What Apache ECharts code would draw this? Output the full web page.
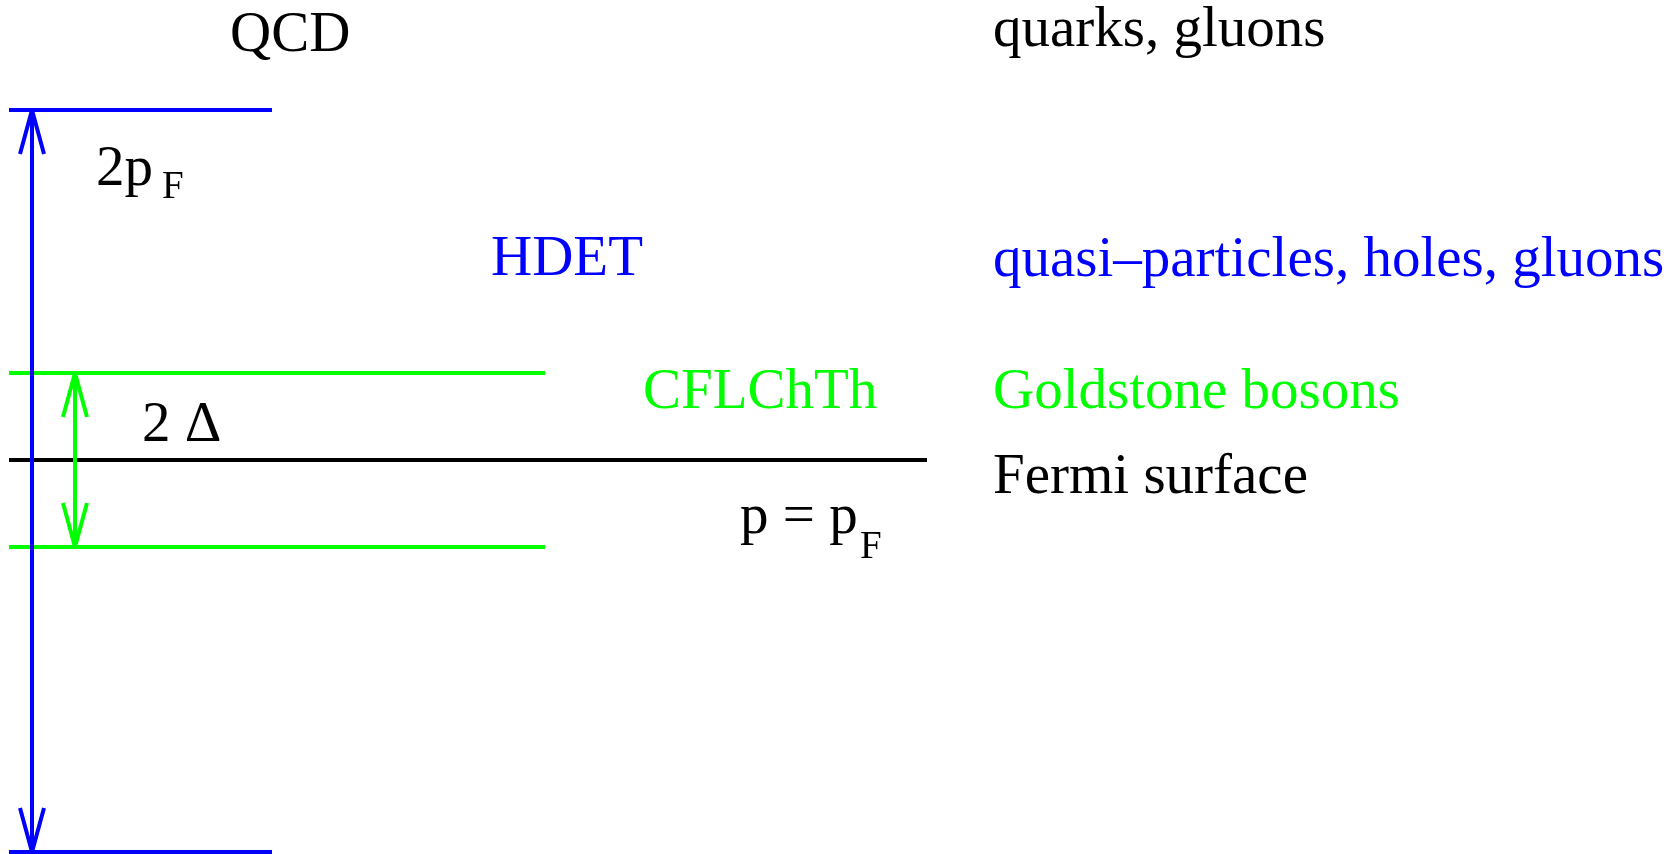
<!DOCTYPE html>
<html>
<head>
<meta charset="utf-8">
<script src="https://cdn.jsdelivr.net/npm/echarts@6/dist/echarts.min.js"></script>
<style>
  html, body { margin: 0; padding: 0; background: #fff; }
  #main { width: 1674px; height: 854px; }
</style>
</head>
<body>
<div id="main"></div>
<script>
// energy scale levels (vertical position on the diagram, top = 0)
var topLevel = 110;      // 2p_F above
var bottomLevel = 852;   // 2p_F below
var gapTop = 373;        // +Delta
var gapBottom = 547;     // -Delta
var fermiLevel = 460;    // p = p_F

// horizontal extent of each level: [start, end]
var blueSpan = [9, 272];
var greenSpan = [9, 545];
var fermiSpan = [9, 927];

// double arrows: x position
var blueArrowX = 32;
var greenArrowX = 75;

// text labels: [text, x, y]
var blackLabels = [
    ['QCD', 230, 36],
    ['quarks, gluons', 993, 31],
    ['2p', 96, 170],
    ['2 \u0394', 142, 426],
    ['Fermi surface', 993, 478],
    ['p = p', 740, 518]
];
var blackSubs = [
    ['F', 162, 188],
    ['F', 860, 548]
];
var blueLabels = [
    ['HDET', 491, 260],
    ['quasi\u2013particles, holes, gluons', 993, 261]
];
var greenLabels = [
    ['CFLChTh', 643, 393],
    ['Goldstone bosons', 993, 393]
];

var BLUE = '#0000ff', GREEN = '#00ff00', BLACK = '#000000';
var FONT = '"Liberation Serif", "Times New Roman", serif';

var myChart = echarts.init(document.getElementById('main'));

function segment(points, color) {
    return {
        type: 'line',
        data: points,
        symbol: 'none',
        silent: true,
        lineStyle: { color: color, width: 4 },
        z: 2
    };
}

function level(y, span, color) {
    return segment([[span[0], y], [span[1], y]], color);
}

// open V arrow head, dir = -1 points up, +1 points down
function head(x, tipY, dir, color) {
    var len = 44, hw = 12;
    return segment([[x - hw, tipY - dir * len], [x, tipY], [x + hw, tipY - dir * len]], color);
}

function textSeries(list, color, size) {
    return {
        type: 'scatter',
        symbolSize: 0,
        silent: true,
        itemStyle: { color: color, opacity: 1 },
        data: list.map(function (d) { return { value: [d[1], d[2]], name: d[0] }; }),
        label: {
            show: true,
            position: [0, 0],
            align: 'left',
            verticalAlign: 'middle',
            formatter: '{b}',
            color: color,
            textBorderWidth: 0,
            fontFamily: FONT,
            fontSize: size,
            lineHeight: size
        },
        z: 5
    };
}

var series = [
    level(topLevel, blueSpan, BLUE),
    level(bottomLevel, blueSpan, BLUE),
    level(gapTop, greenSpan, GREEN),
    level(gapBottom, greenSpan, GREEN),
    level(fermiLevel, fermiSpan, BLACK),
    segment([[blueArrowX, topLevel], [blueArrowX, bottomLevel]], BLUE),
    head(blueArrowX, topLevel, -1, BLUE),
    head(blueArrowX, bottomLevel, 1, BLUE),
    segment([[greenArrowX, gapTop], [greenArrowX, gapBottom]], GREEN),
    head(greenArrowX, gapTop, -1, GREEN),
    head(greenArrowX, gapBottom, 1, GREEN),
    textSeries(blackLabels, BLACK, 57),
    textSeries(blackSubs, BLACK, 39),
    textSeries(blueLabels, BLUE, 57),
    textSeries(greenLabels, GREEN, 57)
];

option = {
    backgroundColor: '#ffffff',
    animation: false,
    grid: { left: 0, right: 0, top: 0, bottom: 0 },
    xAxis: { type: 'value', min: 0, max: 1674, show: false },
    yAxis: { type: 'value', min: 0, max: 854, inverse: true, show: false },
    series: series
};

myChart.setOption(option);
</script>
</body>
</html>
